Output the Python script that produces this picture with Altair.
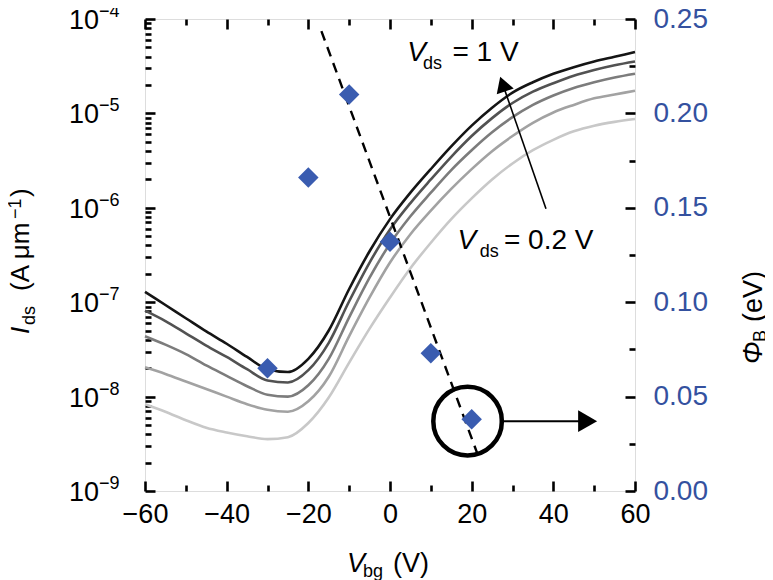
import altair as alt
import pandas as pd

# ---------------- data ----------------
vbg = [-60, -55, -50, -45, -40, -35, -30, -25, -20, -15, -10, -5, 0,
       5, 10, 15, 20, 25, 30, 35, 40, 45, 50, 55, 60]

# log10(Ids / A um^-1) for each Vds curve
log_ids_1v0 = [-6.89, -7.03, -7.17, -7.31, -7.44, -7.58, -7.71, -7.74, -7.60, -7.30, -6.86, -6.46, -6.12,
               -5.84, -5.59, -5.35, -5.13, -4.94, -4.78, -4.67, -4.58, -4.51, -4.45, -4.40, -4.35]
log_ids_0v8 = [-7.09, -7.20, -7.33, -7.46, -7.58, -7.71, -7.83, -7.85, -7.72, -7.43, -6.99, -6.58, -6.23,
               -5.95, -5.70, -5.46, -5.24, -5.05, -4.89, -4.77, -4.68, -4.60, -4.54, -4.49, -4.45]
log_ids_0v6 = [-7.36, -7.45, -7.55, -7.67, -7.78, -7.89, -7.98, -8.00, -7.88, -7.60, -7.16, -6.74, -6.38,
               -6.09, -5.84, -5.60, -5.39, -5.20, -5.04, -4.91, -4.81, -4.73, -4.67, -4.62, -4.58]
log_ids_0v4 = [-7.69, -7.76, -7.84, -7.92, -8.00, -8.08, -8.14, -8.16, -8.05, -7.79, -7.36, -6.95, -6.58,
               -6.28, -6.03, -5.80, -5.59, -5.40, -5.24, -5.10, -4.99, -4.91, -4.84, -4.80, -4.76]
log_ids_0v2 = [-8.08, -8.16, -8.25, -8.33, -8.38, -8.42, -8.45, -8.43, -8.28, -8.01, -7.64, -7.28, -6.95,
               -6.64, -6.37, -6.12, -5.90, -5.70, -5.53, -5.39, -5.28, -5.19, -5.13, -5.09, -5.06]

series_names = ["0.2 V", "0.4 V", "0.6 V", "0.8 V", "1.0 V"]
series_logs = [log_ids_0v2, log_ids_0v4, log_ids_0v6, log_ids_0v8, log_ids_1v0]
line_colors = ["#c8c8c8", "#a2a2a2", "#7c7c7c", "#525252", "#151515"]

# Schottky barrier height (right axis)
phi_vbg = [-30, -20, -10, 0, 10, 20]
phi_b = [0.065, 0.166, 0.210, 0.132, 0.073, 0.038]

# dashed guide line (right-axis units)
fit_vbg = [-16.8, 21.7]
fit_phi = [0.2436, 0.018]

# highlight circle and arrow towards the right axis (right-axis units)
circle_vbg = [19.0]
circle_phi = [0.037]
harrow_vbg = [26.9, 48.4]
harrow_phi = [0.037, 0.037]

# arrow from Vds = 0.2 V towards Vds = 1 V (left-axis units, log10)
varrow_vbg = [38.2, 27.6]
varrow_log = [-6.01, -4.69]

x_domain = [-60, 60]
y_exponents = [-9, -8, -7, -6, -5, -4]
phi_label_values = [0.0, 0.05, 0.10, 0.15, 0.20, 0.25]
x_label_values = [-60, -40, -20, 0, 20, 40, 60]

# ---------------- style ----------------
FONT = "Liberation Sans"
BLUE = "#34519f"
DIAMOND = "#3a5cb0"
W, H = 490, 472

xscale = alt.Scale(domain=x_domain, nice=False, zero=False)
def logscale():
    return alt.Scale(type="log", domain=[1e-9, 1e-4], nice=False)
def phiscale():
    return alt.Scale(domain=[0, 0.25], nice=False, zero=False)

x_minor = list(range(-60, 61, 10))
log_ticks = [m * 10.0 ** e for e in range(-9, -4) for m in range(1, 10)] + [1e-4]
phi_ticks = [i * 0.025 for i in range(11)]

major_x = {"condition": {"test": "abs(datum.value % 20) < 0.001", "value": 10}, "value": 6}
major_log = {"condition": {"test": "abs(log(datum.value)/LN10 - round(log(datum.value)/LN10)) < 0.001", "value": 10}, "value": 6}
major_phi = {"condition": {"test": "abs(datum.value*20 - round(datum.value*20)) < 0.001", "value": 10}, "value": 6}

def tick_axis(orient, offset, values, size):
    return alt.Axis(orient=orient, offset=offset, values=values, labels=False, domain=False,
                    grid=False, ticks=True, tickColor="black", tickWidth=2.6, tickSize=size, title=None)

# ---------------- line data ----------------
rows = []
for name, logs in zip(series_names, series_logs):
    for v, l in zip(vbg, logs):
        rows.append({"Vbg": v, "Ids": 10 ** l, "Vds": name})
lines_df = pd.DataFrame(rows)

lines = alt.Chart(lines_df).mark_line(strokeWidth=2.6, interpolate="monotone").encode(
    x=alt.X("Vbg:Q", scale=xscale, axis=tick_axis("top", -H, x_minor, major_x)),
    y=alt.Y("Ids:Q", scale=logscale(), axis=tick_axis("right", -W, log_ticks, major_log)),
    color=alt.Color("Vds:N", scale=alt.Scale(domain=series_names, range=line_colors), legend=None),
    detail="Vds:N",
)

# y tick labels 10^n as text
ylab_df = pd.DataFrame({"Ids": [10.0 ** e for e in y_exponents],
                        "base": ["10"] * len(y_exponents),
                        "sup": ["\u2212" + str(-e) for e in y_exponents],
                        "xpos": [x_domain[0]] * len(y_exponents)})
ybase = alt.Chart(ylab_df).mark_text(font=FONT, fontSize=27, align="right", baseline="middle",
                                     dx=-46, dy=2, color="black").encode(
    x=alt.X("xpos:Q", scale=xscale, axis=None),
    y=alt.Y("Ids:Q", scale=logscale(), axis=None), text="base:N")
ysup = alt.Chart(ylab_df).mark_text(font=FONT, fontSize=18, align="left", baseline="middle",
                                    dx=-46, dy=-7, color="black").encode(
    x=alt.X("xpos:Q", scale=xscale, axis=None),
    y=alt.Y("Ids:Q", scale=logscale(), axis=None), text="sup:N")

# diamonds (right axis, with labels)
phi_df = pd.DataFrame({"Vbg": phi_vbg, "phi": phi_b})
diamonds = alt.Chart(phi_df).mark_point(shape="diamond", filled=True, size=420, color=DIAMOND,
                                        opacity=1).encode(
    x=alt.X("Vbg:Q", scale=xscale,
            axis=alt.Axis(orient="bottom", values=x_label_values, ticks=False, domain=False, grid=False,
                          labelFont=FONT, labelFontSize=27, labelColor="black", labelPadding=10,
                          labelFlush=False, labelOverlap=False, title=None)),
    y=alt.Y("phi:Q", scale=phiscale(),
            axis=alt.Axis(orient="right", values=phi_label_values, format=".2f", ticks=False, domain=False,
                          grid=False, labelFont=FONT, labelFontSize=28, labelColor=BLUE, labelPadding=18,
                          labelOverlap=False, title=None)),
)

fit_df = pd.DataFrame({"Vbg": fit_vbg, "phi": fit_phi})
fit = alt.Chart(fit_df).mark_line(color="black", strokeWidth=2.4, strokeDash=[10, 7]).encode(
    x=alt.X("Vbg:Q", scale=xscale, axis=tick_axis("bottom", -H, x_minor, major_x)),
    y=alt.Y("phi:Q", scale=phiscale(), axis=tick_axis("left", -W, phi_ticks, major_phi)),
)

circ = alt.Chart(pd.DataFrame({"Vbg": circle_vbg, "phi": circle_phi})).mark_point(
    shape="circle", filled=False, size=4700, strokeWidth=4.5, color="black", opacity=1).encode(
    x=alt.X("Vbg:Q", scale=xscale, axis=None), y=alt.Y("phi:Q", scale=phiscale(), axis=None))

harrow_df = pd.DataFrame({"Vbg": harrow_vbg, "phi": harrow_phi})
harrow = alt.Chart(harrow_df).mark_line(color="black", strokeWidth=2).encode(
    x=alt.X("Vbg:Q", scale=xscale, axis=None), y=alt.Y("phi:Q", scale=phiscale(), axis=None))
harrow_head = alt.Chart(harrow_df.iloc[[1]]).mark_point(
    shape="triangle-right", filled=True, size=480, color="black", opacity=1).encode(
    x=alt.X("Vbg:Q", scale=xscale, axis=None), y=alt.Y("phi:Q", scale=phiscale(), axis=None))

varrow_df = pd.DataFrame({"Vbg": varrow_vbg, "Ids": [10 ** v for v in varrow_log]})
varrow = alt.Chart(varrow_df).mark_line(color="black", strokeWidth=1.6).encode(
    x=alt.X("Vbg:Q", scale=xscale, axis=None), y=alt.Y("Ids:Q", scale=logscale(), axis=None))
varrow_head = alt.Chart(varrow_df.iloc[[1]]).mark_point(
    shape="triangle-up", filled=True, size=320, angle=341, color="black", opacity=1).encode(
    x=alt.X("Vbg:Q", scale=xscale, axis=None), y=alt.Y("Ids:Q", scale=logscale(), axis=None))

# annotations in data coordinates (Vbg, log10 Ids)
def atxt(s, v, logi, size, italic=False):
    d = pd.DataFrame({"Vbg": [v], "Ids": [10 ** logi], "t": [s]})
    return alt.Chart(d).mark_text(font=FONT, fontSize=size, align="left", baseline="alphabetic",
                                  fontStyle="italic" if italic else "normal", color="black").encode(
        x=alt.X("Vbg:Q", scale=xscale, axis=None), y=alt.Y("Ids:Q", scale=logscale(), axis=None),
        text="t:N")

annotations = [
    atxt("V", 4.2, -4.445, 28, True), atxt("ds", 8.1, -4.53, 18), atxt("= 1 V", 15.3, -4.445, 28),
    atxt("V", 16.5, -6.436, 28, True), atxt("ds", 22.0, -6.52, 18), atxt("= 0.2 V", 27.9, -6.436, 28),
]

# axis titles (pixel positions relative to the plot area)
def ttxt(s, x, y, size, italic=False, angle=0, color="black"):
    return alt.Chart(pd.DataFrame({"t": [s]})).mark_text(
        font=FONT, fontSize=size, align="left", baseline="alphabetic", angle=angle,
        fontStyle="italic" if italic else "normal", color=color).encode(
        x=alt.value(x), y=alt.value(y), text="t:N")

titles = [
    # x title: V_bg (V)
    ttxt("V", 202, 553, 27, True), ttxt("bg", 218, 558, 18), ttxt("(V)", 248, 553, 27),
    # left title: I_ds (A um^-1)
    ttxt("I", -116, 315, 26, True, 270), ttxt("ds", -110, 306, 18, False, 270),
    ttxt("(A \u03bcm", -116, 272, 26, False, 270), ttxt("\u22121", -124, 200, 18, False, 270),
    ttxt(")", -116, 178, 26, False, 270),
    # right title: Phi_B (eV)
    ttxt("\u03a6", 617, 345, 27, True, 270), ttxt("B", 621, 323, 18, False, 270),
    ttxt("(eV)", 617, 303, 27, False, 270),
]

chart = alt.layer(
    lines, fit, diamonds, ybase, ysup, circ, harrow, harrow_head, varrow, varrow_head,
    *annotations, *titles
).resolve_scale(y="independent").resolve_axis(x="independent", y="independent").properties(
    width=W, height=H,
    padding={"left": 137, "top": 11, "right": 130, "bottom": 92},
    autosize=alt.AutoSizeParams(type="none"),
).configure_view(stroke="black", strokeWidth=3.5).configure(background="white")

chart.save("out.html", embed_options={"renderer": "svg", "actions": False})
